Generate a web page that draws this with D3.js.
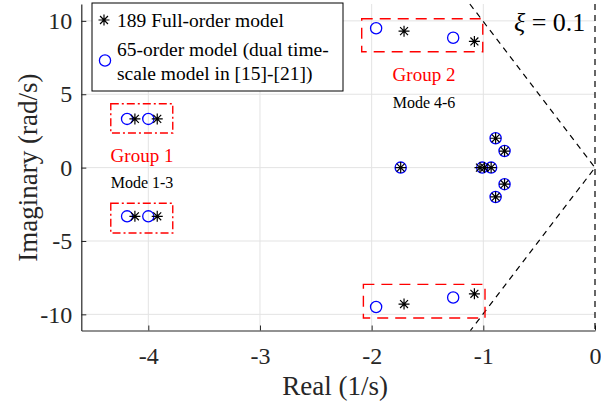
<!DOCTYPE html>
<html>
<head>
<meta charset="utf-8">
<script src="https://cdn.jsdelivr.net/npm/d3@7"></script>
<style>
  body { margin: 0; background: #fff; }
  svg { display: block; font-family: "Liberation Serif", "Times New Roman", serif; }
</style>
</head>
<body>
<div id="chart"></div>
<script>
// eigenvalues, 189 full-order model (asterisks)
const fullRe = [-4.12, -3.92, -4.12, -3.92, -1.71, -1.08, -1.71, -1.08, -1.74, -1.03, -0.99, -0.93, -0.89, -0.81, -0.81, -0.89];
const fullIm = [3.32, 3.32, -3.32, -3.32, 9.3, 8.6, -9.3, -8.6, 0, 0, 0, 0, 2.0, 1.13, -1.13, -2.0];
// eigenvalues, 65-order model (circles)
const redRe = [-4.19, -4.0, -4.19, -4.0, -1.96, -1.27, -1.96, -1.27, -1.74, -1.01, -0.93, -0.89, -0.81, -0.81, -0.89];
const redIm = [3.32, 3.32, -3.32, -3.32, 9.5, 8.85, -9.5, -8.85, 0, 0, 0, 2.0, 1.13, -1.13, -2.0];

const xTicks = [-4, -3, -2, -1, 0];
const yTicks = [-10, -5, 0, 5, 10];
const xi = 0.1;

const width = 601, height = 407;
const margin = { left: 81.3, right: 6, top: 4, bottom: 76.5 };

const x = d3.scaleLinear().domain([-4.6, 0]).range([margin.left, width - margin.right]);
const y = d3.scaleLinear().domain([-11.1, 11.15]).range([height - margin.bottom, margin.top]);

const svg = d3.select('#chart').append('svg')
    .attr('width', width)
    .attr('height', height);

// grid
svg.append('g')
  .selectAll('line')
    .data(xTicks.slice(0, -1))
  .enter().append('line')
    .attr('x1', d => x(d)).attr('x2', d => x(d))
    .attr('y1', y.range()[0]).attr('y2', y.range()[1])
    .attr('stroke', '#e3e3e3');
svg.append('g')
  .selectAll('line')
    .data(yTicks)
  .enter().append('line')
    .attr('x1', x.range()[0]).attr('x2', x.range()[1])
    .attr('y1', d => y(d)).attr('y2', d => y(d))
    .attr('stroke', '#e3e3e3');

// axes (ticks inside, plain hyphen minus like matlab)
const fmt = d => String(d);
const xAxis = svg.append('g')
    .attr('transform', `translate(0,${y.range()[0]})`)
    .call(d3.axisBottom(x).tickValues(xTicks).tickFormat(fmt).tickSizeInner(-5).tickSizeOuter(0).tickPadding(16));
const yAxis = svg.append('g')
    .attr('transform', `translate(${x.range()[0]},0)`)
    .call(d3.axisLeft(y).tickValues(yTicks).tickFormat(fmt).tickSizeInner(-5).tickSizeOuter(0).tickPadding(9));
[xAxis, yAxis].forEach(a => {
  a.select('.domain').attr('stroke', '#262626').attr('stroke-width', 1.2);
  a.selectAll('.tick line').attr('stroke', '#262626');
  a.selectAll('.tick text')
      .attr('font-family', '"Liberation Serif", serif')
      .attr('font-size', 24)
      .attr('fill', '#262626');
});

svg.append('text')
    .attr('x', (x.range()[0] + x.range()[1]) / 2 - 3)
    .attr('y', 395)
    .attr('text-anchor', 'middle')
    .attr('font-size', 27)
    .attr('fill', '#262626')
    .text('Real (1/s)');
svg.append('text')
    .attr('transform', `translate(37,${y(0)}) rotate(-90)`)
    .attr('text-anchor', 'middle')
    .attr('font-size', 27)
    .attr('fill', '#262626')
    .text('Imaginary (rad/s)');

// damping line and imaginary axis
const ymax = y.domain()[1], ymin = y.domain()[0];
const k = xi / Math.sqrt(1 - xi * xi);
const dampLine = [[-ymax * k, ymax], [0, 0], [ymin * k, ymin]];
svg.append('path')
    .attr('d', d3.line().x(d => x(d[0])).y(d => y(d[1]))(dampLine))
    .attr('fill', 'none')
    .attr('stroke', '#000')
    .attr('stroke-width', 1.2)
    .attr('stroke-dasharray', '6,5');
svg.append('line')
    .attr('x1', x(0)).attr('x2', x(0))
    .attr('y1', y(ymax)).attr('y2', y(ymin))
    .attr('stroke', '#000')
    .attr('stroke-width', 1.2)
    .attr('stroke-dasharray', '6,5');

svg.append('text')
    .attr('x', 514)
    .attr('y', 31)
    .attr('font-size', 26)
    .attr('fill', '#000')
    .html('<tspan font-style="italic">ξ</tspan> = 0.1');

// group boxes
const boxes = [
  { x0: -4.336, x1: -3.781, y0: 2.36, y1: 4.35, dash: '8,3,2,3' },
  { x0: -4.336, x1: -3.781, y0: -4.46, y1: -2.43, dash: '8,3,2,3' },
  { x0: -2.089, x1: -1.005, y0: 7.9, y1: 10.14, dash: '11,7' },
  { x0: -2.074, x1: -0.985, y0: -10.25, y1: -7.96, dash: '11,7' }
];
svg.append('g')
  .selectAll('rect')
    .data(boxes)
  .enter().append('rect')
    .attr('x', d => x(d.x0))
    .attr('y', d => y(d.y1))
    .attr('width', d => x(d.x1) - x(d.x0))
    .attr('height', d => y(d.y0) - y(d.y1))
    .attr('fill', 'none')
    .attr('stroke', '#ff0000')
    .attr('stroke-width', 1.4)
    .attr('stroke-dasharray', d => d.dash);

const labels = [
  { t: 'Group 1', cx: 142, by: 162, size: 19, fill: '#ff0000' },
  { t: 'Mode 1-3', cx: 142, by: 188, size: 16, fill: '#000' },
  { t: 'Group 2', cx: 424, by: 81, size: 19, fill: '#ff0000' },
  { t: 'Mode 4-6', cx: 424, by: 108, size: 16, fill: '#000' }
];
svg.append('g')
  .selectAll('text')
    .data(labels)
  .enter().append('text')
    .attr('x', d => d.cx)
    .attr('y', d => d.by)
    .attr('text-anchor', 'middle')
    .attr('font-size', d => d.size)
    .attr('fill', d => d.fill)
    .text(d => d.t);

// markers
const asterisk = (g, s) => {
  const r = s / 2, q = r * 0.72;
  g.append('path')
      .attr('d', `M${-r},0H${r}M0,${-r}V${r}M${-q},${-q}L${q},${q}M${-q},${q}L${q},${-q}`)
      .attr('stroke', '#000')
      .attr('stroke-width', 1.2)
      .attr('fill', 'none');
};

svg.append('g')
  .selectAll('circle')
    .data(redRe.map((d, i) => [d, redIm[i]]))
  .enter().append('circle')
    .attr('cx', d => x(d[0]))
    .attr('cy', d => y(d[1]))
    .attr('r', 5.6)
    .attr('fill', 'none')
    .attr('stroke', '#0000ff')
    .attr('stroke-width', 1.3);

svg.append('g')
  .selectAll('g')
    .data(fullRe.map((d, i) => [d, fullIm[i]]))
  .enter().append('g')
    .attr('transform', d => `translate(${x(d[0])},${y(d[1])})`)
    .each(function () { asterisk(d3.select(this), 11); });

// legend
const legend = svg.append('g');
legend.append('rect')
    .attr('x', 92).attr('y', 3)
    .attr('width', 251).attr('height', 88)
    .attr('fill', '#fff')
    .attr('stroke', '#000')
    .attr('stroke-width', 1);
asterisk(legend.append('g').attr('transform', 'translate(104,20)'), 11);
legend.append('circle')
    .attr('cx', 105).attr('cy', 60.5).attr('r', 5.6)
    .attr('fill', 'none').attr('stroke', '#0000ff').attr('stroke-width', 1.3);
legend.append('text')
    .attr('x', 117).attr('y', 27)
    .attr('font-size', 19.5)
    .text('189 Full-order model');
legend.append('text')
    .attr('x', 117).attr('y', 56)
    .attr('font-size', 19.5)
    .text('65-order model (dual time-');
legend.append('text')
    .attr('x', 117).attr('y', 80)
    .attr('font-size', 19.5)
    .text('scale model in [15]-[21])');
</script>
</body>
</html>
